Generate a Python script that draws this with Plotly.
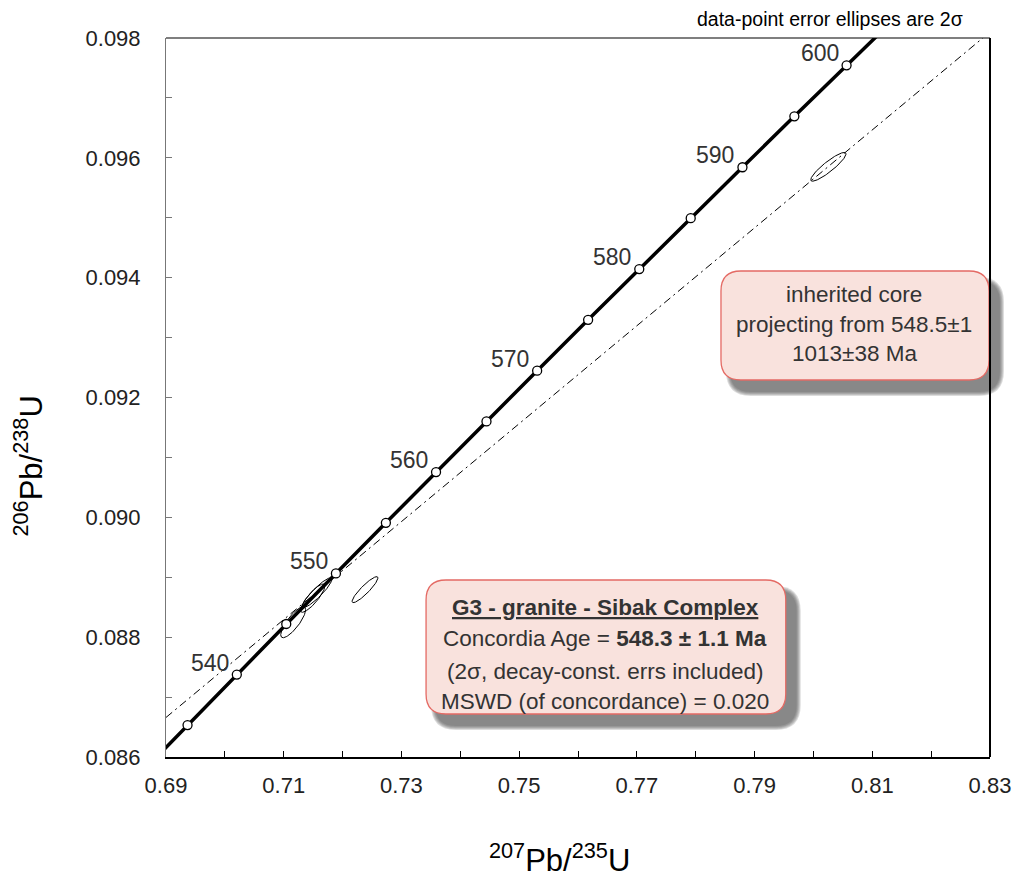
import numpy as np
import plotly.graph_objects as go

# ---------------- data ----------------
ages = [535, 540, 545, 550, 555, 560, 565, 570, 575, 580, 585, 590, 595, 600]
conc_x = [0.69366, 0.70203, 0.71043, 0.71887, 0.72736, 0.73588, 0.74445,
          0.75306, 0.76172, 0.77041, 0.77915, 0.78794, 0.79676, 0.80563]
conc_y = [0.086532, 0.087376, 0.088220, 0.089064, 0.089909, 0.090755, 0.091601,
          0.092448, 0.093296, 0.094144, 0.094993, 0.095843, 0.096693, 0.097544]
# concordia curve continues past the plot edges (530 Ma and 610 Ma)
curve_start = (0.68535, 0.085691)
curve_end = (0.82350, 0.099248)
label_ages = [540, 550, 560, 570, 580, 590, 600]

# discordia (548.5 Ma -> 1013 Ma) across the plot window
disc_x = [0.69, 0.83]
disc_y = [0.08666, 0.09810]

# 2-sigma error ellipses: centre, half-widths, correlation
ell_cx = [0.71161, 0.71568, 0.71492, 0.72381, 0.80254]
ell_cy = [0.08825, 0.088743, 0.088651, 0.088793, 0.09585]
ell_sx = [0.00212, 0.00252, 0.00207, 0.00220, 0.00300]
ell_sy = [0.000259, 0.000248, 0.000236, 0.000217, 0.000240]
ell_rho = [0.81, 0.907, 0.853, 0.905, 0.90]

x_ticks = [0.69, 0.71, 0.73, 0.75, 0.77, 0.79, 0.81, 0.83]
y_ticks = [0.086, 0.088, 0.090, 0.092, 0.094, 0.096, 0.098]

# ---------------- figure ----------------
OFF = 8                      # page body margin
W, H = 1015, 871
L, T, R, B = 158, 30, 30, 122
PW, PH = W - L - R, H - T - B


def px(x):   # window pixel -> paper
    return (x - OFF - L) / PW


def py(y):
    return (H - B - (y - OFF)) / PH


FONT = "Liberation Sans, Arial, sans-serif"
fig = go.Figure()

# discordia
fig.add_trace(go.Scatter(x=disc_x, y=disc_y, mode="lines",
                         line=dict(color="black", width=1, dash="8px,4px,2px,4px"),
                         hoverinfo="skip", showlegend=False))

# ellipses
t = np.linspace(0, 2 * np.pi, 120)
for cx, cy, sx, sy, r in zip(ell_cx, ell_cy, ell_sx, ell_sy, ell_rho):
    ex = cx + sx * np.cos(t)
    ey = cy + sy * (r * np.cos(t) + np.sqrt(1 - r * r) * np.sin(t))
    fig.add_trace(go.Scatter(x=ex, y=ey, mode="lines",
                             line=dict(color="black", width=1),
                             hoverinfo="skip", showlegend=False))

# concordia curve
fig.add_trace(go.Scatter(x=[curve_start[0]] + conc_x + [curve_end[0]],
                         y=[curve_start[1]] + conc_y + [curve_end[1]],
                         mode="lines", line=dict(color="black", width=3.5),
                         hoverinfo="skip", showlegend=False))
fig.add_trace(go.Scatter(x=conc_x, y=conc_y, mode="markers",
                         marker=dict(symbol="circle", size=9, color="white",
                                     line=dict(color="black", width=1.3)),
                         text=[str(a) for a in ages], hoverinfo="text",
                         showlegend=False))

annotations = []
for a in label_ages:
    i = ages.index(a)
    annotations.append(dict(x=conc_x[i], y=conc_y[i], xref="x", yref="y",
                            text=str(a), showarrow=False, xanchor="right",
                            yanchor="bottom", xshift=-6, yshift=-3,
                            font=dict(family=FONT, size=23, color="#333333")))

# ---------------- boxes ----------------
def rrect(x0, y0, x1, y1, r):
    pts = lambda x, y: f"{px(x):.5f},{py(y):.5f}"
    return (f"M {pts(x0 + r, y0)} L {pts(x1 - r, y0)} Q {pts(x1, y0)} {pts(x1, y0 + r)} "
            f"L {pts(x1, y1 - r)} Q {pts(x1, y1)} {pts(x1 - r, y1)} "
            f"L {pts(x0 + r, y1)} Q {pts(x0, y1)} {pts(x0, y1 - r)} "
            f"L {pts(x0, y0 + r)} Q {pts(x0, y0)} {pts(x0 + r, y0)} Z")


shapes = []
for (x0, y0, x1, y1) in [(427, 580, 788, 714), (723, 271, 992, 380)]:
    for k in range(5):
        inf = 5 - k
        shapes.append(dict(type="path", xref="paper", yref="paper", layer="above",
                           path=rrect(x0 + 10 - inf, y0 + 11 - inf, x1 + 10 + inf, y1 + 11 + inf, 20 + inf),
                           fillcolor="rgba(80,80,80,0.2)", line=dict(width=0)))
    shapes.append(dict(type="path", xref="paper", yref="paper", layer="above",
                       path=rrect(x0, y0, x1, y1, 20),
                       fillcolor="#f9e2dd", line=dict(color="#e46a64", width=1.3)))

# top and right frame lines
shapes.append(dict(type="line", xref="paper", yref="paper", x0=0, x1=1, y0=1, y1=1,
                   line=dict(color="black", width=1.2), layer="above"))
shapes.append(dict(type="line", xref="paper", yref="paper", x0=1, x1=1, y0=0, y1=1,
                   line=dict(color="black", width=2), layer="above"))

box_font = dict(family=FONT, size=22.5, color="#333333")
g3_lines = ["<b><span style='text-decoration:underline'>G3 - granite - Sibak Complex</span></b>",
            "Concordia Age = <b>548.3 ± 1.1 Ma</b>",
            "(2σ, decay-const. errs included)",
            "MSWD (of concordance) = 0.020"]
for txt, yy in zip(g3_lines, [607, 638, 671, 701]):
    annotations.append(dict(x=px(607), y=py(yy), xref="paper", yref="paper", text=txt,
                            showarrow=False, xanchor="center", yanchor="middle", font=box_font))
core_lines = ["inherited core", "projecting from 548.5±1", "1013±38 Ma"]
for txt, yy in zip(core_lines, [294, 324, 354]):
    annotations.append(dict(x=px(857), y=py(yy), xref="paper", yref="paper", text=txt,
                            showarrow=False, xanchor="center", yanchor="middle", font=box_font))

annotations.append(dict(x=px(968), y=py(19), xref="paper", yref="paper",
                        text="data-point error ellipses are 2σ", showarrow=False,
                        xanchor="right", yanchor="middle",
                        font=dict(family=FONT, size=19.5, color="black")))

# axis titles
annotations.append(dict(x=px(561), y=py(858), xref="paper", yref="paper",
                        text="<sup>207</sup>Pb/<sup>235</sup>U", showarrow=False,
                        xanchor="center", yanchor="middle",
                        font=dict(family=FONT, size=31, color="black")))
annotations.append(dict(x=px(28), y=py(466), xref="paper", yref="paper",
                        text="<sup>206</sup>Pb/<sup>238</sup>U", showarrow=False,
                        xanchor="center", yanchor="middle", textangle=-90,
                        font=dict(family=FONT, size=31, color="black")))

fig.update_layout(
    width=W, height=H, margin=dict(l=L, r=R, t=T, b=B),
    paper_bgcolor="white", plot_bgcolor="white",
    shapes=shapes, annotations=annotations, showlegend=False,
    xaxis=dict(range=[0.69, 0.83], tickvals=x_ticks, tickformat=".2f",
               ticks="inside", ticklen=6, tickcolor="black", tickwidth=1,
               minor=dict(dtick=0.01, tick0=0.69, ticks="inside", ticklen=6,
                          tickcolor="black", tickwidth=1),
               ticklabelstandoff=8,
               showline=True, linecolor="black", linewidth=2, showgrid=False,
               zeroline=False, tickfont=dict(family=FONT, size=22, color="#222222")),
    yaxis=dict(range=[0.086, 0.098], tickvals=y_ticks, tickformat=".3f",
               ticks="inside", ticklen=6, tickcolor="#777777", tickwidth=1,
               minor=dict(dtick=0.001, tick0=0.086, ticks="inside", ticklen=6,
                          tickcolor="#777777", tickwidth=1),
               ticklabelstandoff=20,
               showline=True, linecolor="#777777", linewidth=1, showgrid=False,
               zeroline=False, tickfont=dict(family=FONT, size=22, color="#222222")),
)

fig.write_html("out.html")
